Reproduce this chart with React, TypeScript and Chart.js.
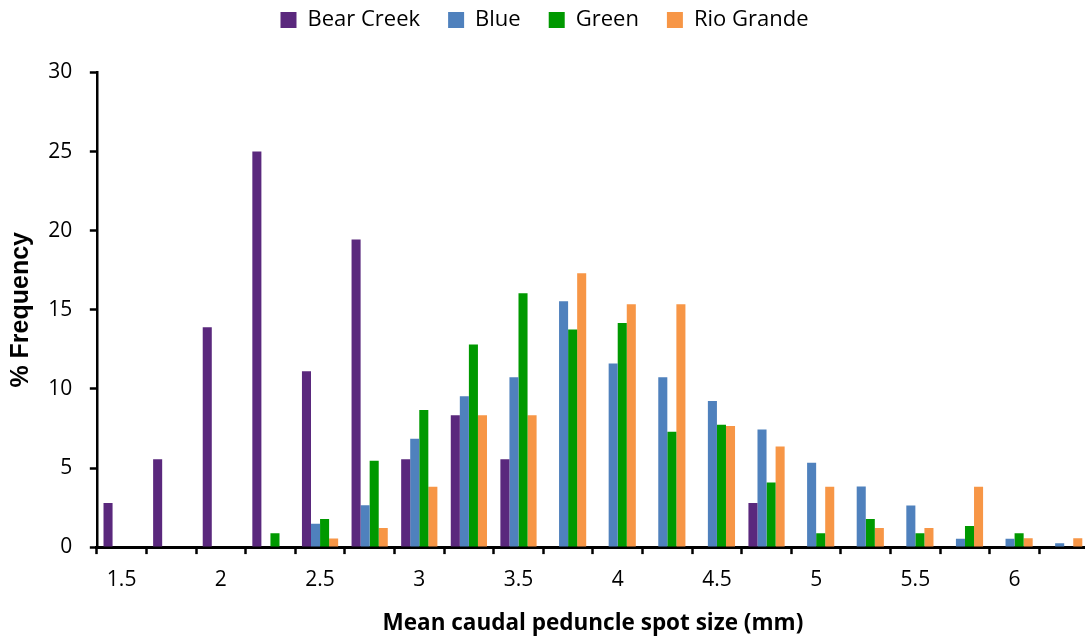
import React, { useEffect, useRef } from 'react';
import { Chart, registerables } from 'chart.js';

Chart.register(...registerables);

const categories = ['1.5', '1.75', '2', '2.25', '2.5', '2.75', '3', '3.25', '3.5', '3.75', '4', '4.25', '4.5', '4.75', '5', '5.25', '5.5', '5.75', '6', '6.25'];
const tickLabels = ['1.5', '', '2', '', '2.5', '', '3', '', '3.5', '', '4', '', '4.5', '', '5', '', '5.5', '', '6', ''];

const bearCreek = [2.78, 5.56, 13.89, 25, 11.11, 19.44, 5.56, 8.33, 5.56, 0, 0, 0, 0, 2.78, 0, 0, 0, 0, 0, 0];
const blue = [0, 0, 0, 0, 1.48, 2.64, 6.85, 9.53, 10.73, 15.54, 11.61, 10.73, 9.23, 7.44, 5.33, 3.83, 2.63, 0.52, 0.52, 0.24];
const green = [0, 0, 0, 0.88, 1.77, 5.46, 8.66, 12.8, 16.04, 13.75, 14.17, 7.29, 7.73, 4.08, 0.88, 1.77, 0.88, 1.33, 0.88, 0];
const rioGrande = [0, 0, 0, 0, 0.55, 1.2, 3.81, 8.33, 8.33, 17.31, 15.35, 15.35, 7.65, 6.36, 3.81, 1.21, 1.21, 3.81, 0.56, 0.56];

const seriesNames = ['Bear Creek', 'Blue', 'Green', 'Rio Grande'];
const seriesColors = ['#5A287D', '#4F81BD', '#009900', '#F79646'];

const yTicks = [0, 5, 10, 15, 20, 25, 30];

export default function App() {
  const ref = useRef<HTMLCanvasElement>(null);

  useEffect(() => {
    if (!ref.current) return;
    const legendSpacer = {
      id: 'legendSpacer',
      beforeInit(chart: any) {
        const fit = chart.legend.fit;
        chart.legend.fit = function () {
          fit.call(this);
          this.height += 31.5;
        };
      },
    };
    const values = [bearCreek, blue, green, rioGrande];
    const chart = new Chart(ref.current, {
      type: 'bar',
      data: {
        labels: categories,
        datasets: values.map((v, i) => ({
          label: seriesNames[i],
          data: v,
          backgroundColor: seriesColors[i],
          borderWidth: 0,
          barPercentage: 1,
          categoryPercentage: 0.73,
        })),
      },
      options: {
        animation: false,
        responsive: true,
        maintainAspectRatio: false,
        events: [],
        layout: { padding: { top: -19, left: 0, right: 0, bottom: 0 } },
        plugins: {
          tooltip: { enabled: false },
          legend: {
            position: 'top',
            labels: {
              boxWidth: 16,
              boxHeight: 16,
              padding: 28,
              color: '#000',
              font: { family: 'Open Sans', size: 22 },
            },
          },
        },
        scales: {
          x: {
            grid: {
              display: true,
              offset: true,
              drawOnChartArea: false,
              drawTicks: true,
              tickLength: 7,
              tickWidth: 2.5,
              tickColor: '#000',
            },
            border: { display: true, color: '#000', width: 3 },
            ticks: {
              autoSkip: false,
              maxRotation: 0,
              minRotation: 0,
              padding: 13.5,
              color: '#000',
              font: { family: 'Open Sans', size: 21 },
              callback: (_v: any, i: number) => tickLabels[i],
            },
            title: {
              display: true,
              text: 'Mean caudal peduncle spot size (mm)',
              color: '#000',
              font: { family: 'Open Sans', size: 22.5, weight: 'bold' },
              padding: { top: 3.3, bottom: 5.4 },
            },
          },
          y: {
            min: 0,
            max: 30,
            afterBuildTicks: (scale: any) => {
              scale.ticks = yTicks.map((v) => ({ value: v }));
            },
            grid: {
              display: true,
              drawOnChartArea: false,
              drawTicks: true,
              tickLength: 7,
              tickWidth: 2.5,
              tickColor: '#000',
            },
            border: { display: true, color: '#000', width: 2.5 },
            ticks: {
              padding: 17.5,
              color: '#000',
              font: { family: 'Open Sans', size: 21 },
            },
            title: {
              display: true,
              text: '% Frequency',
              color: '#000',
              font: { family: 'Liberation Sans', size: 25, weight: 'bold' },
              padding: { top: 6.5, bottom: -5.7 },
            },
          },
        },
      },
      plugins: [legendSpacer],
    } as any);
    return () => chart.destroy();
  }, []);

  return (
    <div style={{ position: 'fixed', left: 0, top: 0, width: 1085, height: 642, overflow: 'hidden', background: '#fff' }}>
      <div style={{ position: 'relative', width: 1089, height: 642 }}>
        <canvas ref={ref} />
      </div>
    </div>
  );
}
